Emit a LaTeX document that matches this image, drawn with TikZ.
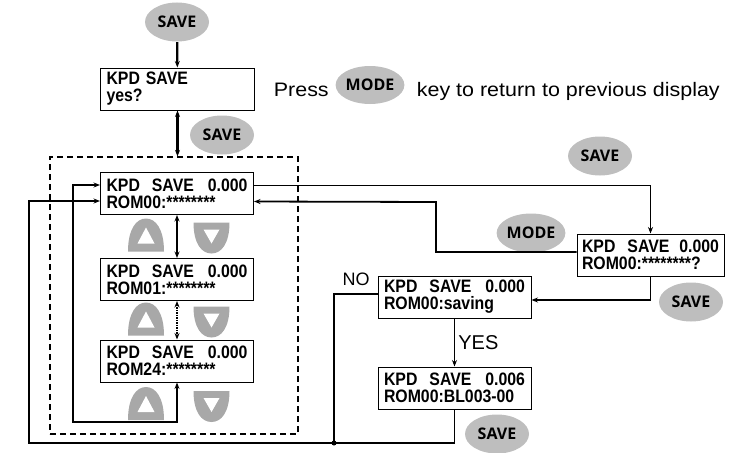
\documentclass[tikz,border=0pt]{standalone}
\usepackage{fontspec}
\setmainfont{Liberation Sans}
\newfontfamily\lcdfont[FakeStretch=0.88]{Liberation Sans}
\newfontfamily\wideFont[FakeStretch=1.1]{Liberation Sans}
\newfontfamily\keyfont{Open Sans}
\usetikzlibrary{shapes.geometric,arrows.meta}
\definecolor{keygray}{RGB}{190,190,190}
\definecolor{btngray}{RGB}{168,168,168}
\newcommand\lcdline[2]{\makebox[\linewidth][l]{#1\hfill#2}}
\tikzset{
	lcd/.style={draw, line width=1pt, minimum height=42pt, inner xsep=6pt, inner ysep=1pt,
		text width=141pt, align=left, font=\lcdfont\bfseries\fontsize{18}{17}\selectfont},
	key/.style={ellipse, fill=keygray, minimum width=64pt, minimum height=39pt, inner sep=0pt,
		font=\keyfont\bfseries\fontsize{16}{16}\selectfont},
	pics/upkey/.style={code={
		\fill[btngray] (-18,16) .. controls (-18,-6) and (-10,-17) .. (0,-17)
			.. controls (10,-17) and (18,-6) .. (18,16) -- cycle;
		\fill[white] (-8.5,8) -- (8.5,8) -- (0,-8) -- cycle;
	}},
	pics/downkey/.style={code={
		\fill[btngray] (-18,-15) -- (18,-15) .. controls (18,6) and (10,16) .. (0,16)
			.. controls (-10,16) and (-18,6) .. (-18,-15) -- cycle;
		\fill[white] (-8,-8) -- (8,-8) -- (0,6) -- cycle;
	}}
}
\begin{document}
\begin{tikzpicture}[x=1pt,y=-1pt,>={Stealth[length=6.5pt,width=5pt]},line width=1.1pt]
	\useasboundingbox (0,0) rectangle (751,452);
	%keys
	\node[key] (savetop) at (177,22) {SAVE};
	\node[key] (saveyes) at (222,135) {SAVE};
	\node[key] (savemenu) at (600,156) {SAVE};
	\node[key] (modeback) at (531,233) {MODE};
	\node[key] (saveconfirm) at (691,302) {SAVE};
	\node[key] (savedone) at (497,434) {SAVE};
	% hint
	\node[anchor=base west, font=\wideFont\fontsize{19.5}{19.5}\selectfont] (press) at (270,96) {Press};
	\node[key, minimum width=62pt, minimum height=38pt] (modepress) at (370,85) {MODE};
	\node[anchor=base west, font=\wideFont\fontsize{19.5}{19.5}\selectfont] (hint) at (413,96) {key to return to previous display};
	% displays
	\node[lcd, text width=142pt] (yes) at (177.5,89) {KPD SAVE\\yes?};
	\node[draw, dashed, dash pattern=on 6pt off 4pt, line width=1.2pt, minimum width=248pt, minimum height=277pt] (rombox) at (174,295.5) {};
	\node[lcd] (rom00) at (177,193.5) {\lcdline{KPD\ \ SAVE}{0.000}\\ROM00:********};
	\node[lcd] (rom01) at (177,279.5) {\lcdline{KPD\ \ SAVE}{0.000}\\ROM01:********};
	\node[lcd] (rom24) at (177,361) {\lcdline{KPD\ \ SAVE}{0.000}\\ROM24:********};
	\node[lcd, text width=137pt, inner xsep=5pt] (romq) at (650.5,255) {\lcdline{KPD\ \ SAVE}{0.000}\\ROM00:********?};
	\node[lcd] (saving) at (454.5,297) {\lcdline{KPD\ \ SAVE}{0.000}\\ROM00:saving};
	\node[lcd] (done) at (454.5,388) {\lcdline{KPD\ \ SAVE}{0.006}\\ROM00:BL003-00};
	% up/down buttons
	\foreach \y in {0,84,168.5}{
		\pic at (146,235.5+\y) {upkey};
		\pic at (211.5,237.5+\y) {downkey};
	}
	% flow
	\draw[->, line width=2.2pt] (savetop) -- (yes);
	\draw[<->, line width=2.2pt] (yes.south) -- (yes.south |- rombox.north);
	\draw[<->, line width=2.2pt] (rom00) -- (rom01);
	\draw[<->, line width=1.5pt, densely dotted] (rom01) -- (rom24);
	\draw[<->] (rom24.south) |- (73,422) |- ([yshift=8.5pt]rom00.west);
	\draw[->] ([yshift=8pt]rom00.east) -| (romq.north);
	\draw[->, line width=1.8pt] ([yshift=3pt]romq.west) -| (436,202) -- ([yshift=-8pt]rom00.east);
	\draw[->] (romq.south) |- ([yshift=-3pt]saving.east);
	\draw[->] (saving) -- node[right, font=\fontsize{20}{20}\selectfont] (yeslabel) {YES} (done);
	\coordinate (join) at (334,443);
	\draw[->] ([yshift=3pt]saving.west) -| (join) -| (29,201) -- ([yshift=-7.5pt]rom00.west);
	\draw (done.south) |- (join);
	\fill (join) circle (2.5);
	\node[font=\fontsize{18}{18}\selectfont] (nolabel) at (356,279) {NO};
\end{tikzpicture}
\end{document}
